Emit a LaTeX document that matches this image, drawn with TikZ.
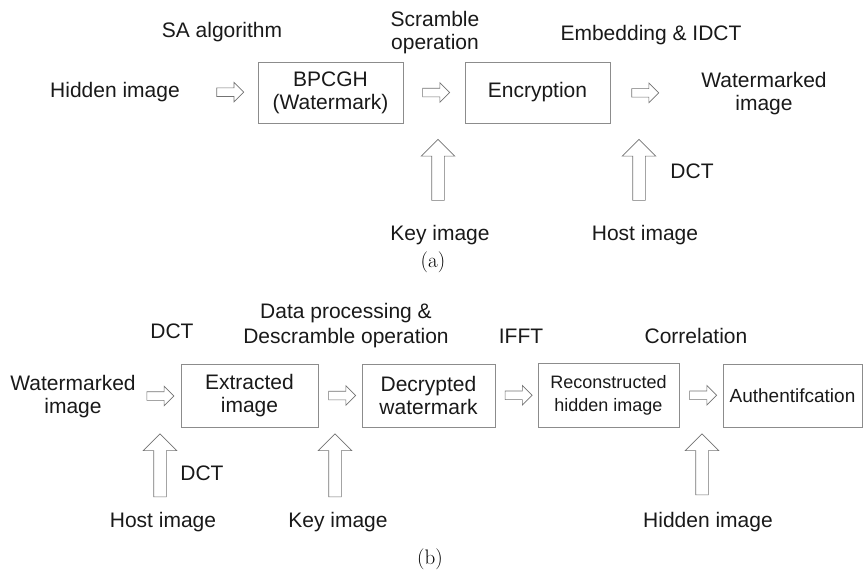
\documentclass[tikz,border=0pt]{standalone}
\usepackage{fontspec}
\newfontfamily\labfont{Liberation Sans}
\usetikzlibrary{shapes.arrows}

\tikzset{
  txt/.style={font=\labfont\fontsize{21}{23}\selectfont, text=black!90, inner sep=0pt},
  stagebox/.style={txt, draw=black!45, line width=0.8pt, align=center},
  harr/.style={single arrow, draw=black!55, fill=white, line width=0.6pt, inner sep=4pt,
    minimum height=27pt, single arrow head extend=5.5pt,
    single arrow tip angle=90},
  varr/.style={single arrow, shape border rotate=90, draw=black!55, fill=white,
    line width=0.6pt, inner sep=6pt, minimum height=61pt,
    single arrow head extend=10.5pt, single arrow tip angle=90},
  captxt/.style={font=\fontsize{21}{24}\selectfont, inner sep=0pt}
}

\begin{document}
\begin{tikzpicture}[x=1pt,y=-1pt]
\useasboundingbox (0,0) rectangle (863,571);

% ---------- (a) embedding ----------
\node[txt, anchor=base] (sa) at (222,37) {SA algorithm};
\node[txt, align=center] (scr) at (435,33) {Scramble\\operation};
\node[txt, anchor=base] (emb) at (651,40) {Embedding \& IDCT};

\node[txt, anchor=base] (hid) at (115,97) {Hidden image};
\node[stagebox, minimum width=145pt, minimum height=61pt] (bp) at (330.5,92.5)
  {BPCGH\\(Watermark)};
\node[stagebox, minimum width=145pt, minimum height=61pt] (enc) at (537.5,92.5)
  {Encryption};
\node[txt, align=center] (wm) at (764,93.5) {Watermarked\\image};

\path (hid.east) -- (bp.west) node[harr, pos=0.62] (a1) {};
\path (bp.east) -- (enc.west) node[harr, pos=0.5] (a2) {};
\path (enc.east) -- (wm.west) node[harr, pos=0.36] (a3) {};

\node[txt, anchor=base] (key) at (440,240) {Key image};
\node[txt, anchor=base] (host) at (645,240) {Host image};
\node[txt, anchor=base] (dcta) at (692,178) {DCT};
\node[varr] (ka) at (438,173) {};
\node[varr] (ha) at (639,173) {};

\node[captxt, anchor=base] (capa) at (433,267) {(a)};

% ---------- (b) extraction ----------
\node[txt, anchor=base] (dctb) at (172,338) {DCT};
\node[txt, align=center, font=\labfont\fontsize{21}{25}\selectfont] (dp) at (346,325.5)
  {Data processing \&\\Descramble operation};
\node[txt, anchor=base] (ifft) at (521,343) {IFFT};
\node[txt, anchor=base] (corr) at (696,343) {Correlation};

\node[txt, align=center] (wmb) at (73,396.5) {Watermarked\\image};
\node[stagebox, minimum width=137pt, minimum height=63pt] (ext) at (249.5,395.5)
  {Extracted\\image};
\node[stagebox, minimum width=133pt, minimum height=63pt] (dec) at (428.5,395.5)
  {Decrypted\\watermark};
\node[stagebox, minimum width=141pt, minimum height=64pt,
  font=\labfont\fontsize{18}{23}\selectfont] (rec) at (608.5,395)
  {Reconstructed\\hidden image};
\node[stagebox, minimum width=139pt, minimum height=63pt,
  font=\labfont\fontsize{19}{23}\selectfont] (auth) at (792.5,395.5)
  {Authentifcation};

\path (wmb.east) -- (ext.west) node[harr, pos=0.5] (b1) {};
\path (ext.east) -- (dec.west) node[harr, pos=0.5] (b2) {};
\path (dec.east) -- (rec.west) node[harr, pos=0.5] (b3) {};
\path (rec.east) -- (auth.west) node[harr, pos=0.5] (b4) {};

\node[varr, minimum height=63pt] (hb) at (160,468.5) {};
\node[varr, minimum height=63pt] (kb) at (335,468.5) {};
\node[varr] (hdb) at (702,467.5) {};
\node[txt, anchor=base] (dctc) at (202,480) {DCT};
\node[txt, anchor=base] (hostb) at (163,527) {Host image};
\node[txt, anchor=base] (keyb) at (338,527) {Key image};
\node[txt, anchor=base] (hidb) at (708,527) {Hidden image};

\node[captxt, anchor=base] (capb) at (430,564) {(b)};
\end{tikzpicture}
\end{document}
